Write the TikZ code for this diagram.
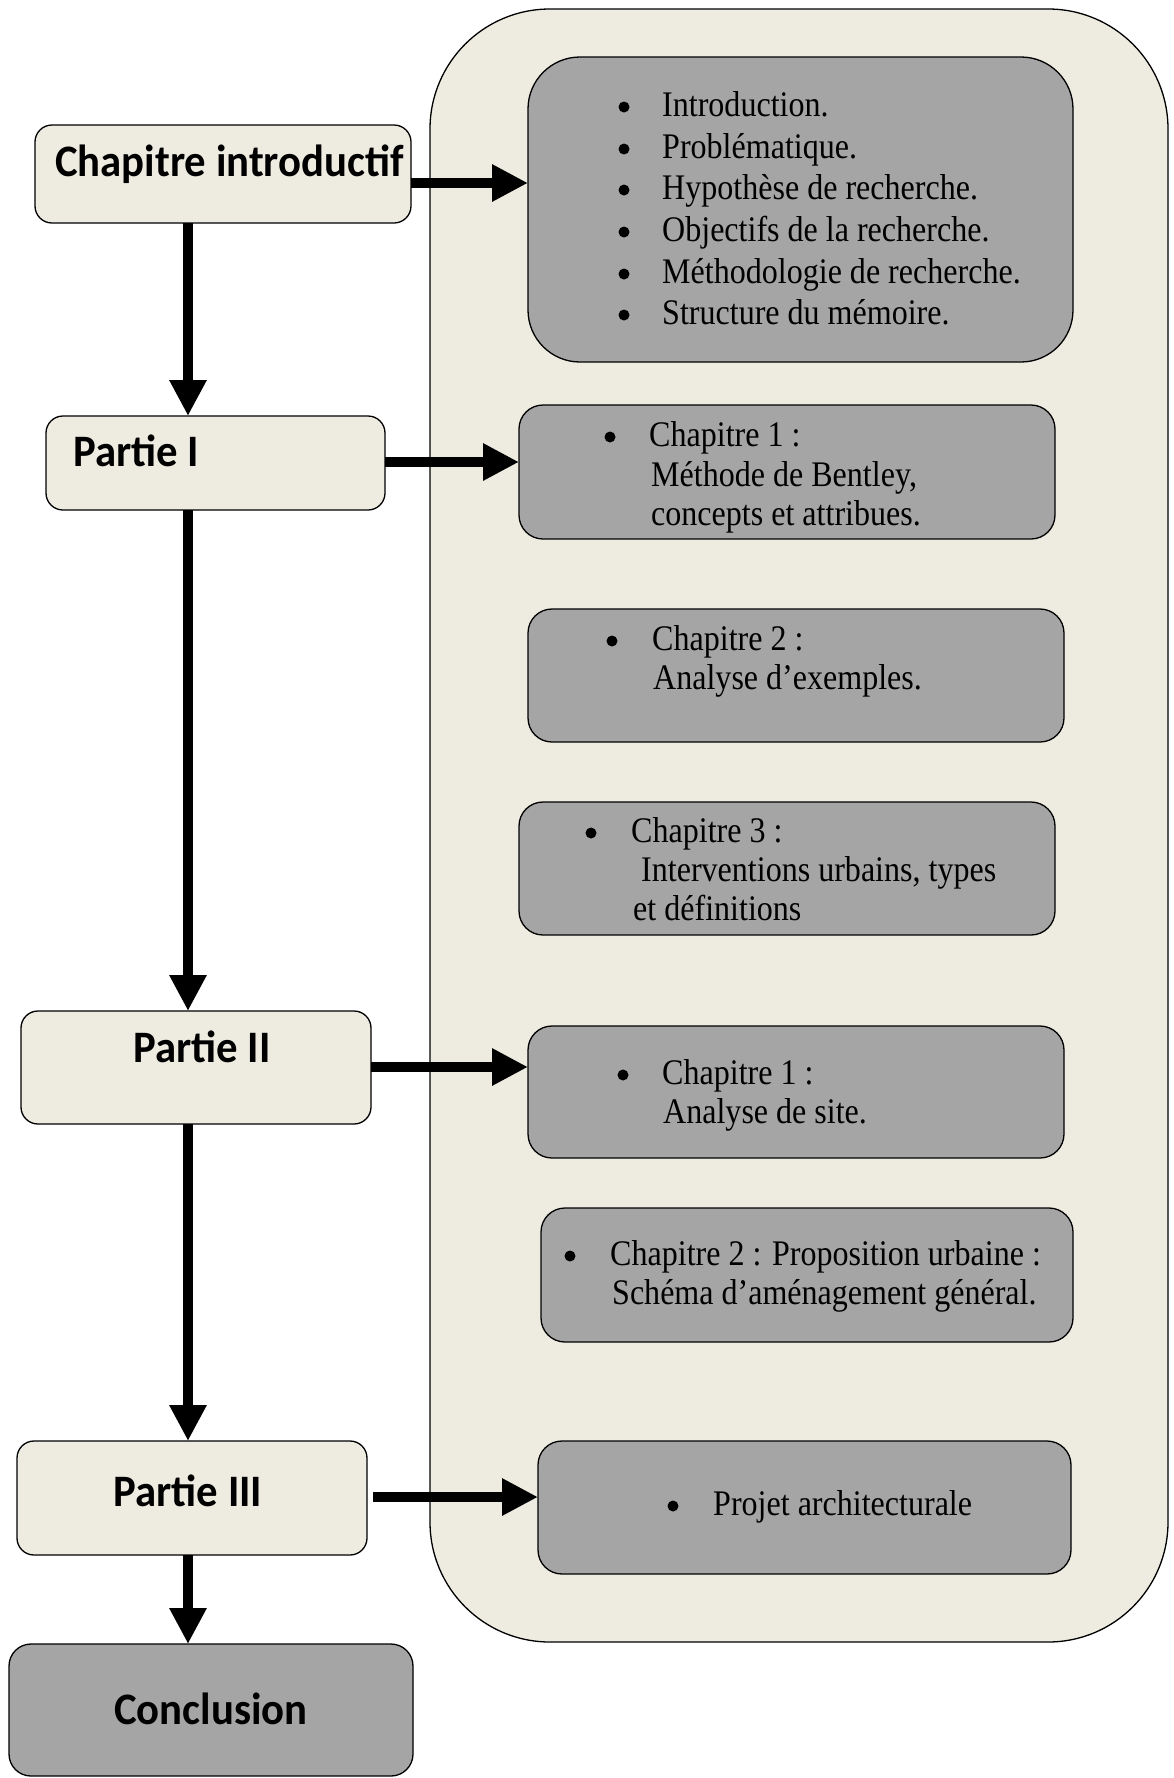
\documentclass[tikz,border=0pt]{standalone}
\usepackage{fontspec}
\usetikzlibrary{arrows.meta}
\newfontfamily\tnrfont[FakeStretch=0.89]{Liberation Serif}
\newfontfamily\califont[FakeStretch=0.95]{Carlito}
\definecolor{beige}{HTML}{EEECE1}
\definecolor{greybox}{HTML}{A5A5A5}
\tikzset{
  box/.style={draw=black, line width=1.3pt, inner sep=0pt, outer sep=0pt},
  lbox/.style={box, fill=beige, rounded corners=17pt},
  gbox/.style={box, fill=greybox, rounded corners=24pt},
  ltext/.style={font=\califont\bfseries\fontsize{45}{50}\selectfont, inner sep=0pt},
  gtext/.style={font=\tnrfont\fontsize{36}{40}\selectfont, inner sep=0pt, anchor=base west},
  arr/.style={line width=10.5pt, -{Triangle[length=36pt,width=35pt]}},
  bul/.style={fill=black}
}
\begin{document}
\begin{tikzpicture}[x=1pt,y=-1pt]
\useasboundingbox (0,0) rectangle (1173,1778);
\fill[white] (0,0) rectangle (1173,1778);
% container
\node[box, fill=beige, rounded corners=120pt, minimum width=738pt, minimum height=1633pt] (cont) at (799,825.5) {};
% right grey boxes
\node[gbox, rounded corners=52pt, minimum width=545pt, minimum height=305pt] (intro) at (800.5,209.5) {};
\node[gbox, minimum width=536pt, minimum height=134pt] (c1) at (787,472) {};
\node[gbox, minimum width=536pt, minimum height=133pt] (c2) at (796,675.5) {};
\node[gbox, minimum width=536pt, minimum height=133pt] (c3) at (787,868.5) {};
\node[gbox, minimum width=536pt, minimum height=132pt] (d1) at (796,1092) {};
\node[gbox, minimum width=532pt, minimum height=134pt] (d2) at (807,1275) {};
\node[gbox, minimum width=533pt, minimum height=133pt] (proj) at (804.5,1507.5) {};
% left boxes
\node[lbox, minimum width=376pt, minimum height=98pt] (chap) at (223,174) {};
\node[lbox, minimum width=339pt, minimum height=94pt] (p1) at (215.5,463) {};
\node[lbox, minimum width=350pt, minimum height=113pt] (p2) at (196,1067.5) {};
\node[lbox, minimum width=350pt, minimum height=114pt] (p3) at (192,1498) {};
\node[box, fill=greybox, rounded corners=22pt, minimum width=404pt, minimum height=132pt] (concl) at (211,1710) {};
% left labels
\node[ltext, anchor=base west] (tchap) at (55,176) {Chapitre introductif};
\node[ltext, anchor=base west] (tp1) at (73,466) {Partie I};
\node[ltext, anchor=base] (tp2) at (202,1062) {Partie II};
\node[ltext, anchor=base] (tp3) at (188,1506) {Partie III};
\node[ltext, anchor=base] (tconcl) at (211,1724) {Conclusion};
% intro list
\foreach \y/\t [count=\i] in {116/Introduction., 158/Problématique., 199/Hypothèse de recherche., 241/Objectifs de la recherche., 283/Méthodologie de recherche., 324/Structure du mémoire.}{
  \fill[bul] (624,\y-9) circle (5.5pt);
  \node[gtext] (i\i) at (662,\y) {\t};
}
% Partie I chapters
\fill[bul] (610,437) circle (5.5pt);
\node[gtext] (c1a) at (649,446) {Chapitre 1 :};
\node[gtext] (c1b) at (651,486) {Méthode de Bentley,};
\node[gtext] (c1c) at (651,525) {concepts et attribues.};
\fill[bul] (612,641) circle (5.5pt);
\node[gtext] (c2a) at (652,650) {Chapitre 2 :};
\node[gtext] (c2b) at (653,689) {Analyse d’exemples.};
\fill[bul] (591,833) circle (5.5pt);
\node[gtext] (c3a) at (631,842) {Chapitre 3 :};
\node[gtext] (c3b) at (641,881) {Interventions urbains, types};
\node[gtext] (c3c) at (633,920) {et définitions};
% Partie II chapters
\fill[bul] (623,1075) circle (5.5pt);
\node[gtext] (d1a) at (662,1084) {Chapitre 1 :};
\node[gtext] (d1b) at (663,1123) {Analyse de site.};
\fill[bul] (570,1256) circle (5.5pt);
\node[gtext] (d2a) at (610,1265) {Chapitre 2 : Proposition urbaine :};
\node[gtext] (d2b) at (612,1304) {Schéma d’aménagement général.};
% Partie III
\fill[bul] (673,1506) circle (5.5pt);
\node[gtext] (pa) at (713,1515) {Projet architecturale};
% helper coordinates
\coordinate (vx) at (188,0);
\coordinate (h1) at (0,183);
\coordinate (h2) at (0,462);
\coordinate (h3) at (0,1067);
\coordinate (h4) at (0,1497);
\coordinate (p3out) at (373,1497);
% vertical arrows
\draw[arr] (vx |- chap.south) -- (vx |- p1.north);
\draw[arr] (vx |- p1.south) -- (vx |- p2.north);
\draw[arr] (vx |- p2.south) -- (vx |- p3.north);
\draw[arr] (vx |- p3.south) -- (vx |- concl.north);
% horizontal arrows
\draw[arr] (chap.east |- h1) -- (intro.west |- h1);
\draw[arr] (p1.east |- h2) -- (c1.west |- h2);
\draw[arr] (p2.east |- h3) -- (d1.west |- h3);
\draw[arr] (p3out) -- (proj.west |- h4);
\end{tikzpicture}
\end{document}
